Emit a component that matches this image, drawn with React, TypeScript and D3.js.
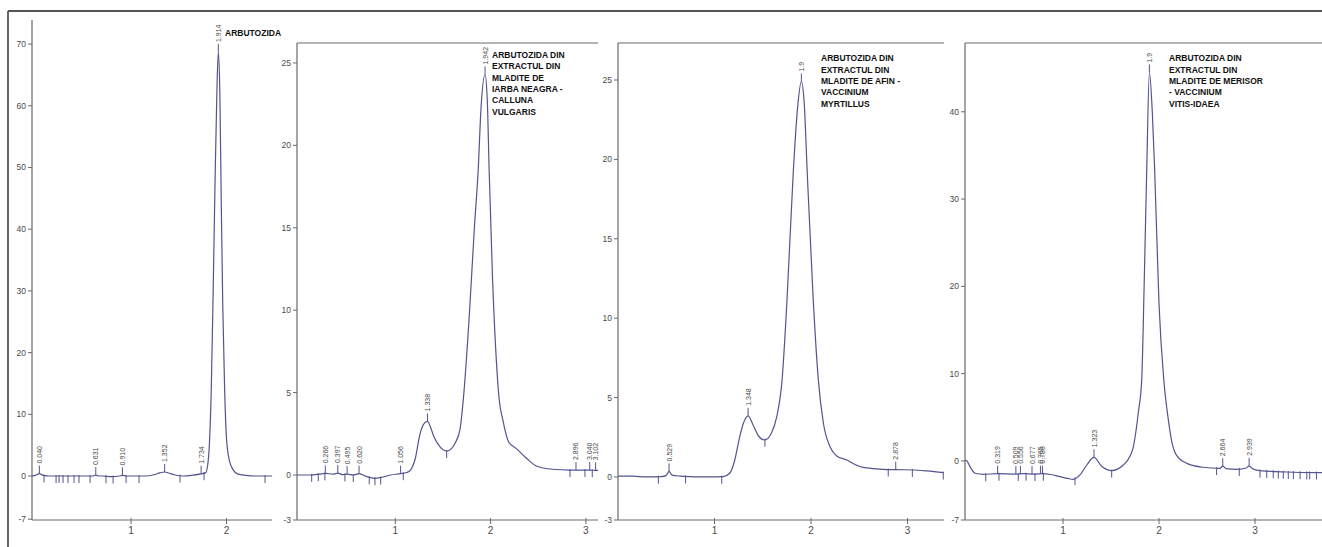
import React from 'react';
import * as d3 from 'd3';

// ---------- Panel 1 : ARBUTOZIDA standard ----------
const p1Time = [-0.037, 0, 0.04, 0.08, 0.15, 0.3, 0.5, 0.6, 0.631, 0.66, 0.7, 0.8, 0.88, 0.91, 0.95, 1.0, 1.15, 1.25, 1.3, 1.352, 1.4, 1.45, 1.55, 1.65, 1.734, 1.78, 1.8, 1.82, 1.84, 1.86, 1.88, 1.9, 1.914, 1.93, 1.945, 1.96, 1.98, 2.0, 2.03, 2.07, 2.12, 2.2, 2.3, 2.476];
const p1Signal = [0, 0.1, 0.4, 0.1, 0, 0, 0, 0, 0.15, 0, 0, -0.1, 0, 0.1, 0, 0, 0, 0.25, 0.5, 0.65, 0.45, 0.2, 0, 0.15, 0.35, 0.5, 1.5, 5, 14, 30, 48, 63, 68.7, 62, 44, 28, 14, 6, 2.5, 1, 0.3, 0.1, 0, 0];
const p1Peaks = ['0.040', '0.631', '0.910', '1.352', '1.734', '1.914'];
const p1Marks = [0.089, 0.215, 0.246, 0.288, 0.34, 0.403, 0.455, 0.571, 0.738, 0.812, 0.948, 1.084, 1.513, 1.764, 2.403];
const p1YTicks = [-7, 0, 10, 20, 30, 40, 50, 60, 70];
const p1XTicks = [1, 2];
const p1Title = ['ARBUTOZIDA'];

// ---------- Panel 2 : Calluna vulgaris ----------
const p2Time = [-0.031, 0.1, 0.2, 0.266, 0.35, 0.397, 0.45, 0.495, 0.56, 0.62, 0.7, 0.78, 0.85, 0.95, 1.056, 1.12, 1.16, 1.21, 1.26, 1.3, 1.338, 1.37, 1.4, 1.47, 1.54, 1.59, 1.63, 1.68, 1.72, 1.78, 1.83, 1.87, 1.9, 1.942, 1.965, 1.985, 2.02, 2.06, 2.09, 2.13, 2.19, 2.27, 2.38, 2.48, 2.65, 2.83, 2.896, 3.04, 3.102, 3.127];
const p2Signal = [0, 0, 0.05, 0.1, 0.05, 0.12, 0.02, 0.05, 0, 0.08, -0.1, -0.2, -0.15, 0, 0.08, 0.15, 0.3, 1.0, 2.5, 3.1, 3.25, 2.9, 2.4, 1.7, 1.45, 1.6, 1.95, 2.8, 5.0, 10, 15, 18.5, 22.3, 24.3, 22.8, 18.5, 12, 7, 4.6, 3.3, 2.0, 1.6, 1.0, 0.55, 0.35, 0.3, 0.3, 0.3, 0.28, 0.28];
const p2Peaks = ['0.266', '0.397', '0.495', '0.620', '1.056', '1.338', '1.942', '2.896', '3.040', '3.102'];
const p2Marks = [0.123, 0.192, 0.262, 0.472, 0.559, 0.727, 0.787, 0.847, 1.084, 1.539, 2.833, 2.99, 3.067];
const p2YTicks = [-3, 0, 5, 10, 15, 20, 25];
const p2XTicks = [1, 2, 3];
const p2Title = ['ARBUTOZIDA DIN', 'EXTRACTUL DIN', 'MLADITE DE', 'IARBA NEAGRA -', 'CALLUNA', 'VULGARIS'];

// ---------- Panel 3 : Vaccinium myrtillus ----------
const p3Time = [0, 0.15, 0.3, 0.45, 0.5, 0.529, 0.56, 0.65, 0.8, 0.95, 1.088, 1.16, 1.21, 1.26, 1.3, 1.348, 1.4, 1.45, 1.52, 1.59, 1.645, 1.7, 1.75, 1.817, 1.86, 1.9, 1.93, 1.96, 2.02, 2.076, 2.128, 2.197, 2.266, 2.37, 2.45, 2.54, 2.75, 2.878, 3.06, 3.2, 3.378];
const p3Signal = [0.05, 0.05, 0, 0.02, 0.1, 0.35, 0.12, 0.05, 0, 0, 0.02, 0.25, 1.07, 2.5, 3.4, 3.85, 3.27, 2.64, 2.33, 2.77, 3.8, 6.1, 11, 19.3, 23.2, 24.9, 23.5, 19.3, 11.5, 6.1, 3.4, 1.9, 1.32, 1.07, 0.8, 0.6, 0.48, 0.46, 0.44, 0.38, 0.27];
const p3Peaks = ['0.529', '1.348', '1.9', '2.878'];
const p3Marks = [0.418, 0.7, 1.075, 1.523, 2.8, 3.05, 3.37];
const p3YTicks = [-3, 0, 5, 10, 15, 20, 25];
const p3XTicks = [1, 2, 3];
const p3Title = ['ARBUTOZIDA DIN', 'EXTRACTUL DIN', 'MLADITE DE AFIN -', 'VACCINIUM', 'MYRTILLUS'];

// ---------- Panel 4 : Vaccinium vitis-idaea ----------
const p4Time = [-0.021, 0, 0.031, 0.083, 0.17, 0.319, 0.5, 0.6, 0.7, 0.786, 0.87, 0.97, 1.05, 1.107, 1.177, 1.247, 1.323, 1.4, 1.507, 1.628, 1.7, 1.732, 1.784, 1.82, 1.845, 1.872, 1.9, 1.93, 1.955, 2.0, 2.05, 2.1, 2.13, 2.18, 2.29, 2.46, 2.635, 2.664, 2.7, 2.81, 2.91, 2.939, 2.97, 3.05, 3.33, 3.698];
const p4Signal = [0.1, 0, -0.65, -1.4, -1.53, -1.45, -1.5, -1.45, -1.5, -1.45, -1.55, -1.8, -2.0, -2.1, -1.6, -0.46, 0.42, -0.57, -1.1, -0.46, 0.6, 1.6, 5.5, 9.3, 20, 33.3, 44.5, 40, 33.3, 18, 9.3, 4.5, 2.4, 0.7, -0.27, -0.72, -0.84, -0.6, -0.88, -0.95, -0.8, -0.55, -0.85, -1.1, -1.26, -1.34];
const p4Peaks = ['0.319', '0.509', '0.556', '0.677', '0.765', '0.786', '1.323', '1.9', '2.664', '2.939'];
const p4Marks = [0.195, 0.333, 0.534, 0.615, 0.708, 0.795, 1.125, 1.507, 2.6, 2.836, 3.052, 3.122, 3.19, 3.243, 3.295, 3.347, 3.4, 3.47, 3.54, 3.57, 3.64];
const p4YTicks = [-7, 0, 10, 20, 30, 40];
const p4XTicks = [1, 2, 3];
const p4Title = ['ARBUTOZIDA DIN', 'EXTRACTUL DIN', 'MLADITE DE MERISOR', '- VACCINIUM', 'VITIS-IDAEA'];

// ---------- Layout ----------
const panels = [
  { time: p1Time, signal: p1Signal, peaks: p1Peaks, marks: p1Marks, yTicks: p1YTicks, xTicks: p1XTicks, title: p1Title,
    xDomain: [-0.037, 2.476], xRange: [32, 272], yDomain: [-7.13, 73.9], yRange: [520, 20], topLine: false, titleX: 225, titleY: 33 },
  { time: p2Time, signal: p2Signal, peaks: p2Peaks, marks: p2Marks, yTicks: p2YTicks, xTicks: p2XTicks, title: p2Title,
    xDomain: [-0.031, 3.127], xRange: [297, 598], yDomain: [-2.73, 26.21], yRange: [520, 43], topLine: true, titleX: 492, titleY: 55 },
  { time: p3Time, signal: p3Signal, peaks: p3Peaks, marks: p3Marks, yTicks: p3YTicks, xTicks: p3XTicks, title: p3Title,
    xDomain: [0, 3.378], xRange: [618, 944], yDomain: [-2.71, 27.33], yRange: [520, 43], topLine: true, titleX: 821, titleY: 58.3 },
  { time: p4Time, signal: p4Signal, peaks: p4Peaks, marks: p4Marks, yTicks: p4YTicks, xTicks: p4XTicks, title: p4Title,
    xDomain: [-0.021, 3.698], xRange: [965, 1322], yDomain: [-6.76, 47.88], yRange: [520, 43], topLine: true, titleX: 1169, titleY: 58.3 },
];

const TRACE = '#53548f';
const AXIS = '#6a6a6a';
const TEXT = '#4a4a4a';
const FONT = '"Liberation Sans", Arial, sans-serif';

function Panel({ p }: { p: any }) {
  const x = d3.scaleLinear().domain(p.xDomain).range(p.xRange);
  const y = d3.scaleLinear().domain(p.yDomain).range(p.yRange).clamp(true);
  const pts: [number, number][] = p.time.map((t: number, i: number) => [t, p.signal[i]]);
  const line = d3.line<[number, number]>().x(d => x(d[0])).y(d => y(d[1])).curve(d3.curveMonotoneX);
  const bis = d3.bisector((d: [number, number]) => d[0]).left;
  const at = (t: number) => {
    const i = Math.max(1, Math.min(pts.length - 1, bis(pts, t)));
    const a = pts[i - 1], b = pts[i];
    const k = (t - a[0]) / (b[0] - a[0]);
    return a[1] + (b[1] - a[1]) * Math.max(0, Math.min(1, k));
  };
  const ax = p.xRange[0];
  const yBottom = p.yRange[0];
  const yTop = p.yRange[1];
  return (
    <g>
      {/* axes */}
      <line x1={ax} x2={ax} y1={yTop} y2={yBottom} stroke={AXIS} strokeWidth={1.2} />
      <line x1={ax} x2={p.xRange[1]} y1={yBottom} y2={yBottom} stroke={AXIS} strokeWidth={1.2} />
      {p.topLine && <line x1={ax} x2={p.xRange[1]} y1={yTop} y2={yTop} stroke={AXIS} strokeWidth={1.2} />}
      {p.yTicks.map((v: number) => (
        <g key={'yt' + v}>
          <line x1={ax - 4} x2={ax} y1={y(v)} y2={y(v)} stroke={AXIS} />
          <text x={ax - 6} y={y(v)} textAnchor="end" dominantBaseline="central" fontSize={8.5} fill={TEXT} fontFamily={FONT}>{v}</text>
        </g>
      ))}
      {p.xTicks.map((v: number) => (
        <g key={'xt' + v}>
          <line x1={x(v)} x2={x(v)} y1={yBottom - 2} y2={yBottom + 4} stroke={AXIS} />
          <text x={x(v)} y={yBottom + 14} textAnchor="middle" fontSize={10} fill={TEXT} fontFamily={FONT}>{v}</text>
        </g>
      ))}
      {/* trace */}
      <path d={line(pts) || ''} fill="none" stroke={TRACE} strokeWidth={1.2} />
      {/* integration marks */}
      {p.marks.map((t: number, i: number) => {
        const yy = y(at(t));
        return <line key={'m' + i} x1={x(t)} x2={x(t)} y1={yy - 1} y2={yy + 7} stroke={TRACE} strokeWidth={1} />;
      })}
      {/* peak labels */}
      {p.peaks.map((lab: string, i: number) => {
        const t = +lab;
        const yy = y(at(t));
        const xx = x(t);
        return (
          <g key={'pk' + i}>
            <line x1={xx} x2={xx} y1={yy} y2={yy - 8} stroke={TRACE} strokeWidth={1} />
            <text transform={`translate(${xx},${yy - 10}) rotate(-90)`} dominantBaseline="central" fontSize={7} fill={TEXT} fontFamily={FONT}>{lab}</text>
          </g>
        );
      })}
      {/* title */}
      {p.title.map((s: string, i: number) => (
        <text key={'ti' + i} x={p.titleX} y={p.titleY + i * 11.3} dominantBaseline="central" fontSize={8.5} fontWeight="bold" fill="#111" fontFamily={FONT}>{s}</text>
      ))}
    </g>
  );
}

export default function App() {
  return (
    <svg width={1322} height={547} style={{ position: 'absolute', left: 0, top: 0, background: '#fff' }}>
      <rect x={0} y={0} width={1322} height={547} fill="#fff" />
      <line x1={8} x2={1322} y1={11} y2={11} stroke="#555" strokeWidth={1.8} />
      <line x1={8} x2={8} y1={11} y2={547} stroke="#555" strokeWidth={1.8} />
      {panels.map((p, i) => <Panel key={i} p={p} />)}
    </svg>
  );
}
